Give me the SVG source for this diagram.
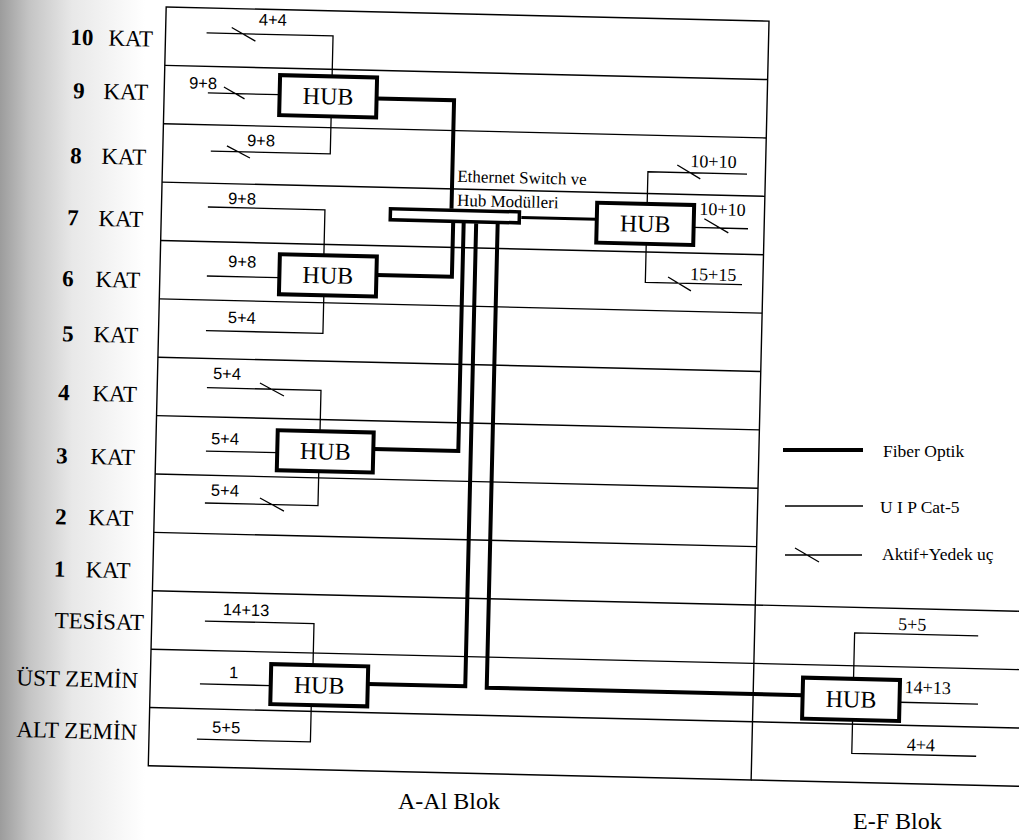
<svg xmlns="http://www.w3.org/2000/svg" width="1019" height="840" viewBox="0 0 1019 840">
<style>
.frame{stroke:#000;stroke-width:1.4;fill:none}
.utp{stroke:#000;stroke-width:1.3;fill:none}
.fiber{stroke:#000;stroke-width:4;fill:none}
.hub rect{fill:#fff;stroke:#000;stroke-width:4}
.bar{fill:#fff;stroke:#000;stroke-width:3.5}
.hubtxt{font-family:"Liberation Serif","Times New Roman",serif;font-size:24px;text-anchor:middle}
.floor{font-family:"Liberation Serif","Times New Roman",serif;font-size:23px}
.num{font-family:"Liberation Serif","Times New Roman",serif;font-size:23px;font-weight:bold}
.lbl{font-family:"Liberation Sans",Arial,sans-serif;font-size:16.5px}
.lblr{font-family:"Liberation Serif","Times New Roman",serif;font-size:18px}
.leg{font-family:"Liberation Serif","Times New Roman",serif;font-size:17.5px}
.blok{font-family:"Liberation Serif","Times New Roman",serif;font-size:24px}
.eth{font-family:"Liberation Serif","Times New Roman",serif;font-size:17px}
</style>
<defs>
<linearGradient id="scan" x1="0" y1="0" x2="1" y2="0">
<stop offset="0" stop-color="#9c9c9c"/>
<stop offset="0.2" stop-color="#c4c4c4"/>
<stop offset="0.5" stop-color="#e8e8e8"/>
<stop offset="1" stop-color="#ffffff"/>
</linearGradient>
</defs>
<rect x="0" y="0" width="1019" height="840" fill="#fff"/>
<rect x="0" y="0" width="145" height="840" fill="url(#scan)"/>

<g transform="rotate(1.35 460 400)">
  <g id="frame">
    <rect class="frame" x="157" y="14" width="603" height="759"/>
    <path class="frame" d="M157,72.4H760 M157,130.8H760 M157,189.2H760 M157,247.6H760 M157,306H760 M157,364.4H760 M157,422.8H760 M157,481.2H760 M157,539.6H760 M157,598H1045 M157,656.4H1045 M157,714.8H1045 M760,773H1045"/>
  </g>

  <g id="floor-labels">
    <text class="num" x="62" y="54">10</text><text class="floor" x="144.7" y="54" text-anchor="end">KAT</text>
    <text class="num" x="66" y="107.4">9</text><text class="floor" x="141" y="107.4" text-anchor="end">KAT</text>
    <text class="num" x="64.5" y="172.4">8</text><text class="floor" x="140.5" y="172.4" text-anchor="end">KAT</text>
    <text class="num" x="63" y="234.5">7</text><text class="floor" x="139" y="234.5" text-anchor="end">KAT</text>
    <text class="num" x="59.4" y="295.5">6</text><text class="floor" x="137.4" y="295.5" text-anchor="end">KAT</text>
    <text class="num" x="60.7" y="350.6">5</text><text class="floor" x="136.7" y="350.6" text-anchor="end">KAT</text>
    <text class="num" x="58" y="409.6">4</text><text class="floor" x="137" y="409.6" text-anchor="end">KAT</text>
    <text class="num" x="57.5" y="472.7">3</text><text class="floor" x="136.5" y="472.7" text-anchor="end">KAT</text>
    <text class="num" x="58" y="533.7">2</text><text class="floor" x="136" y="533.7" text-anchor="end">KAT</text>
    <text class="num" x="58" y="586">1</text><text class="floor" x="134.5" y="586" text-anchor="end">KAT</text>
    <text class="floor" x="149.4" y="637.5" text-anchor="end">TESİSAT</text>
    <text class="floor" x="144.8" y="695.6" text-anchor="end">ÜST ZEMİN</text>
    <text class="floor" x="145" y="747.3" text-anchor="end">ALT ZEMİN</text>
  </g>

  <g id="connectors">
    <path class="utp" d="M198,39H324.5V79.5 M223,33L247,46"/>
    <path class="utp" d="M200.7,99H272.5 M216.6,92.6L237.5,104"/>
    <path class="utp" d="M324.5,119.5V157H205 M221,151.5L244.3,163"/>
    <path class="utp" d="M203.4,213H320.5V258.5"/>
    <path class="utp" d="M204,282H276.5"/>
    <path class="utp" d="M321.4,298.5V336.6H204.4"/>
    <path class="utp" d="M206.7,393.6H320.8V434.5 M259.6,387.7L283.9,400.2"/>
    <path class="utp" d="M207.2,457H278.5"/>
    <path class="utp" d="M320.5,474.5V509H207.4 M262.3,502.7L286.6,515.2"/>
    <path class="utp" d="M210.2,627H319.3V668.5"/>
    <path class="utp" d="M206.7,690H277.5"/>
    <path class="utp" d="M318.5,708.5V745.3H205"/>
    <path class="utp" d="M642.5,199.5V167.4H741.6 M671.7,159.9L695,173.3"/>
    <path class="utp" d="M689.5,222H743.9 M700,213.1L724.3,226.6"/>
    <path class="utp" d="M642.5,239.5V278H739.2 M665.1,272.1L688.3,285.5"/>
    <path class="utp" d="M860,669.5V623.6H983.6"/>
    <path class="utp" d="M906.5,691.8H985"/>
    <path class="utp" d="M860,710.5V744H984.4"/>
    <path class="fiber" d="M369.5,100.5H447V209"/>
    <path class="fiber" d="M373.5,277H449V223"/>
    <path class="fiber" d="M374.5,451H459.5V223"/>
    <path class="fiber" d="M374.5,686H472V223"/>
    <path class="fiber" d="M493.5,223V687H809.5"/>
    <path class="fiber" style="stroke-width:3" d="M517,216H592.5"/>
  </g>

  <g id="link-labels">
    <text class="lbl" x="250" y="30">4+4</text>
    <text class="lbl" x="181.7" y="95">9+8</text>
    <text class="lbl" x="241" y="151">9+8</text>
    <text class="lbl" x="223.4" y="209.5">9+8</text>
    <text class="lbl" x="225" y="272.5">9+8</text>
    <text class="lbl" x="226" y="328.5">5+4</text>
    <text class="lbl" x="212.5" y="384.8">5+4</text>
    <text class="lbl" x="212" y="450">5+4</text>
    <text class="lbl" x="213.2" y="501.6">5+4</text>
    <text class="lbl" x="228" y="620.6">14+13</text>
    <text class="lbl" x="235.5" y="683.4">1</text>
    <text class="lbl" x="220" y="738.6">5+5</text>
    <text class="lblr" x="684.8" y="161.6">10+10</text>
    <text class="lblr" x="694.9" y="209.2">10+10</text>
    <text class="lblr" x="687.2" y="274.6">15+15</text>
    <text class="lblr" x="903.4" y="619.7">5+5</text>
    <text class="lblr" x="911.4" y="682.5">14+13</text>
    <text class="lblr" x="914.8" y="740">4+4</text>
  </g>

  <g id="switch">
    <rect class="bar" x="386" y="210.5" width="129" height="11"/>
    <text class="eth" x="452" y="182">Ethernet Switch ve</text>
    <text class="eth" x="452.4" y="206">Hub Modülleri</text>
  </g>

  <g id="hub-9kat" class="hub"><rect x="272.5" y="79.5" width="97" height="40"/><text class="hubtxt" x="321" y="107.5">HUB</text></g>
  <g id="hub-6kat" class="hub"><rect x="276.5" y="258.5" width="97" height="40"/><text class="hubtxt" x="325" y="286.5">HUB</text></g>
  <g id="hub-3kat" class="hub"><rect x="278.5" y="434.5" width="96" height="40"/><text class="hubtxt" x="326.5" y="462.5">HUB</text></g>
  <g id="hub-ustzemin" class="hub"><rect x="277.5" y="668.5" width="97" height="40"/><text class="hubtxt" x="326" y="696.5">HUB</text></g>
  <g id="hub-7kat" class="hub"><rect x="592.5" y="199.5" width="97" height="40"/><text class="hubtxt" x="641" y="227.5">HUB</text></g>
  <g id="hub-ef" class="hub"><rect x="809.5" y="669.5" width="97" height="41"/><text class="hubtxt" x="858" y="698">HUB</text></g>
</g>

<g id="legend">
  <path class="fiber" d="M783,450H863"/>
  <text class="leg" x="883" y="457">Fiber Optik</text>
  <path class="utp" d="M785,506H863"/>
  <text class="leg" x="880" y="513">U I P Cat-5</text>
  <path class="utp" d="M785,555H862 M795,548L819,562"/>
  <text class="leg" x="882" y="560">Aktif+Yedek uç</text>
</g>

<g id="block-labels">
  <text class="blok" x="398" y="809">A-Al Blok</text>
  <text class="blok" x="853" y="829">E-F Blok</text>
</g>
</svg>
